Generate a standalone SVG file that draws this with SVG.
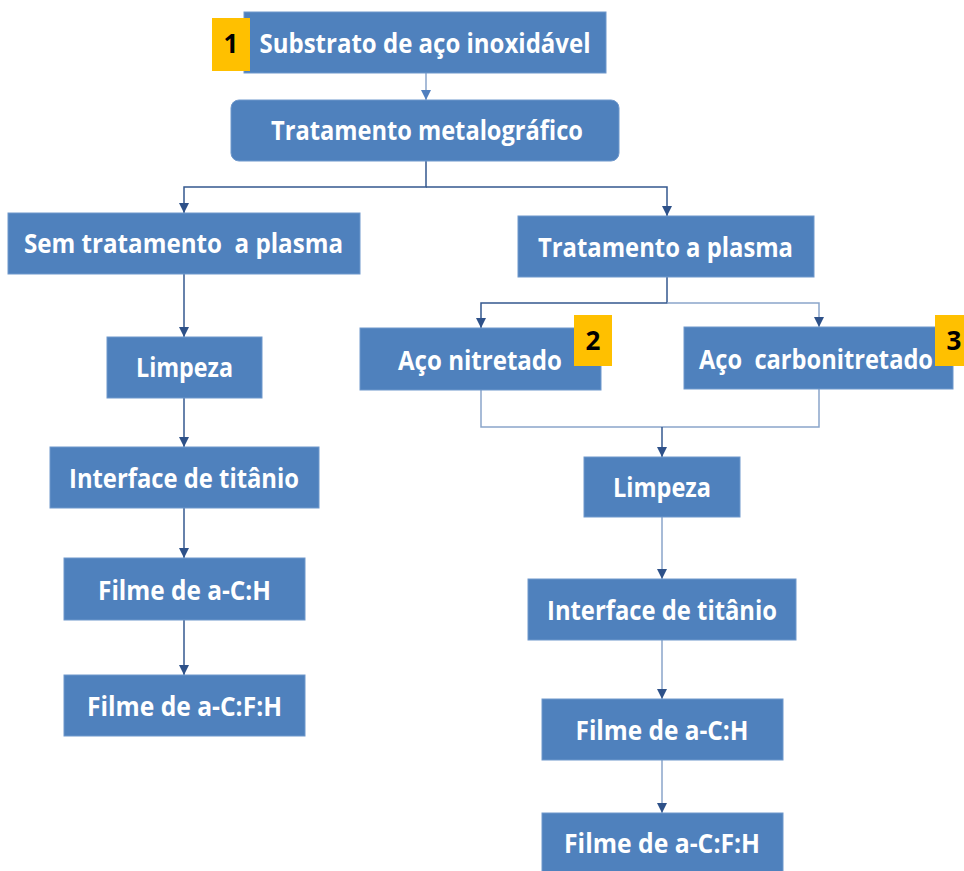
<svg xmlns="http://www.w3.org/2000/svg" width="964" height="871" viewBox="0 0 964 871">
<style>
.box{fill:#4F81BD;stroke:#6F98CC;stroke-width:1}
.lbl{font-family:"Open Sans","Liberation Sans",sans-serif;font-weight:bold;font-size:26px;fill:#FFFFFF;text-anchor:middle}
.badge{fill:#FFC000}
.num{font-family:"Open Sans","Liberation Sans",sans-serif;font-weight:bold;font-size:26px;fill:#000000;text-anchor:middle}
.ln{fill:none;stroke:#34588F;stroke-width:1.5}
.lt{fill:none;stroke:#8AA5CA;stroke-width:1.5}
</style>
<defs>
<marker id="ah" viewBox="0 0 10 10" refX="10" refY="5" markerWidth="10" markerHeight="10" markerUnits="userSpaceOnUse" orient="auto">
<path d="M0,0 L10,5 L0,10 z" fill="#2E5189"/>
</marker>
<marker id="ahl" viewBox="0 0 10 10" refX="10" refY="5" markerWidth="10" markerHeight="10" markerUnits="userSpaceOnUse" orient="auto">
<path d="M0,0 L10,5 L0,10 z" fill="#4F7FBF"/>
</marker>
</defs>
<rect width="964" height="871" fill="#FFFFFF"/>
<g id="connectors">
<path class="lt" d="M426,73 V100" marker-end="url(#ahl)"/>
<path class="ln" d="M426,161 V187 H184 V213" marker-end="url(#ah)"/>
<path class="ln" d="M426,187 H667 V216" marker-end="url(#ah)"/>
<path class="ln" d="M184,274 V337" marker-end="url(#ah)"/>
<path class="ln" d="M184,398 V447" marker-end="url(#ah)"/>
<path class="ln" d="M184,508 V558" marker-end="url(#ah)"/>
<path class="ln" d="M184,620 V675" marker-end="url(#ah)"/>
<path class="ln" d="M667,277 V303 H481 V328" marker-end="url(#ah)"/>
<path class="lt" d="M667,303 H819 V327" marker-end="url(#ah)"/>
<path class="lt" d="M481,390 V427 H819 V389"/>
<path class="ln" d="M662,427 V457" marker-end="url(#ah)"/>
<path class="lt" d="M662,517 V579" marker-end="url(#ah)"/>
<path class="lt" d="M662,640 V699" marker-end="url(#ah)"/>
<path class="lt" d="M662,760 V813" marker-end="url(#ah)"/>
</g>
<g id="n1">
<rect class="box" x="244" y="12" width="362" height="61"/>
<rect class="badge" x="212" y="18" width="38" height="53"/>
<text class="num" x="231" y="53">1</text>
<text class="lbl" x="425" y="53" textLength="331" lengthAdjust="spacingAndGlyphs">Substrato de aço inoxidável</text>
</g>
<g id="n2">
<rect class="box" x="231" y="100" width="388" height="61" rx="8"/>
<text class="lbl" x="427" y="140" textLength="312" lengthAdjust="spacingAndGlyphs">Tratamento metalográfico</text>
</g>
<g id="n3">
<rect class="box" x="8" y="213" width="352" height="61"/>
<text class="lbl" x="183.5" y="253" textLength="319" lengthAdjust="spacingAndGlyphs" xml:space="preserve">Sem tratamento  a plasma</text>
</g>
<g id="n4">
<rect class="box" x="518" y="216" width="296" height="61"/>
<text class="lbl" x="665.5" y="257" textLength="255" lengthAdjust="spacingAndGlyphs">Tratamento a plasma</text>
</g>
<g id="n5">
<rect class="box" x="360" y="328" width="241" height="62"/>
<text class="lbl" x="480" y="370" textLength="164" lengthAdjust="spacingAndGlyphs">Aço nitretado</text>
<rect class="badge" x="574" y="315" width="38" height="51"/>
<text class="num" x="593" y="350">2</text>
</g>
<g id="n6">
<rect class="box" x="684" y="327" width="269" height="62"/>
<text class="lbl" x="816" y="369" textLength="234" lengthAdjust="spacingAndGlyphs" xml:space="preserve">Aço  carbonitretado</text>
<rect class="badge" x="935" y="315" width="38" height="51"/>
<text class="num" x="954" y="350">3</text>
</g>
<g id="n7">
<rect class="box" x="107" y="337" width="155" height="61"/>
<text class="lbl" x="184.5" y="377" textLength="97" lengthAdjust="spacingAndGlyphs">Limpeza</text>
</g>
<g id="n8">
<rect class="box" x="50" y="447" width="269" height="61"/>
<text class="lbl" x="184" y="488" textLength="230" lengthAdjust="spacingAndGlyphs">Interface de titânio</text>
</g>
<g id="n9">
<rect class="box" x="64" y="558" width="241" height="62"/>
<text class="lbl" x="184.5" y="600" textLength="173" lengthAdjust="spacingAndGlyphs">Filme de a-C:H</text>
</g>
<g id="n10">
<rect class="box" x="64" y="675" width="241" height="61"/>
<text class="lbl" x="184.5" y="716" textLength="195" lengthAdjust="spacingAndGlyphs">Filme de a-C:F:H</text>
</g>
<g id="n11">
<rect class="box" x="584" y="457" width="156" height="60"/>
<text class="lbl" x="662" y="497" textLength="98" lengthAdjust="spacingAndGlyphs">Limpeza</text>
</g>
<g id="n12">
<rect class="box" x="528" y="579" width="268" height="61"/>
<text class="lbl" x="662" y="620" textLength="230" lengthAdjust="spacingAndGlyphs">Interface de titânio</text>
</g>
<g id="n13">
<rect class="box" x="542" y="699" width="241" height="61"/>
<text class="lbl" x="662" y="740" textLength="173" lengthAdjust="spacingAndGlyphs">Filme de a-C:H</text>
</g>
<g id="n14">
<rect class="box" x="542" y="813" width="241" height="62"/>
<text class="lbl" x="662" y="853" textLength="196" lengthAdjust="spacingAndGlyphs">Filme de a-C:F:H</text>
</g>
</svg>
